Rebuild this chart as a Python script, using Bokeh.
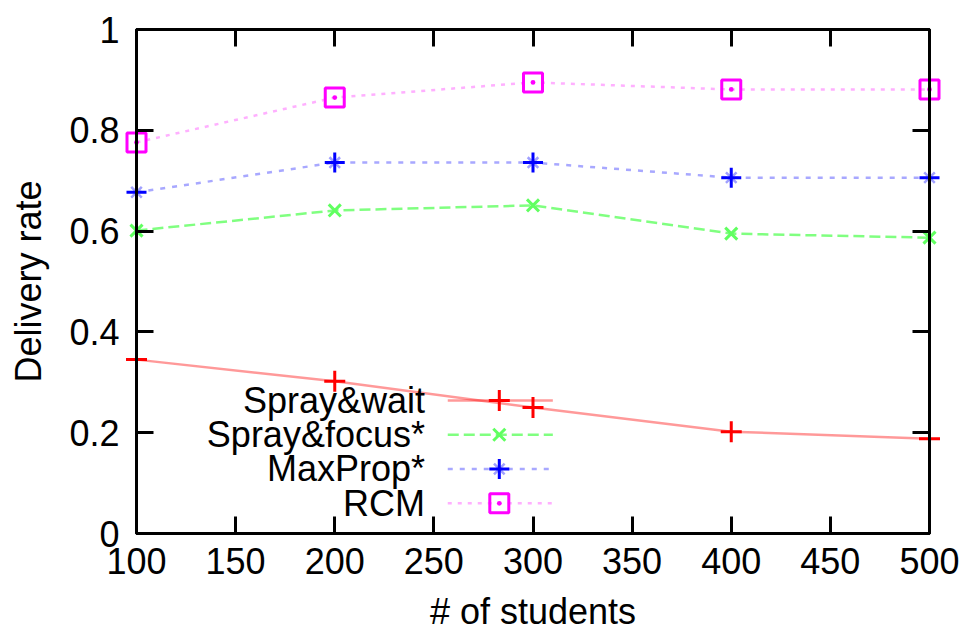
from bokeh.plotting import figure
from bokeh.models import Range1d, FixedTicker, LinearAxis
from bokeh.core.properties import value
from bokeh.embed import file_html
from bokeh.resources import INLINE

# ---- data ----
students = [100, 200, 300, 400, 500]
spray_wait = [0.345, 0.302, 0.250, 0.202, 0.188]
spray_focus = [0.601, 0.641, 0.651, 0.595, 0.587]
maxprop = [0.677, 0.736, 0.736, 0.706, 0.706]
rcm = [0.776, 0.865, 0.895, 0.881, 0.881]

series_names = ["Spray&wait", "Spray&focus*", "MaxProp*", "RCM"]
x_ticks = [100, 150, 200, 250, 300, 350, 400, 450, 500]
y_ticks = [0, 0.2, 0.4, 0.6, 0.8, 1.0]
y_tick_labels = ["0", "0.2", "0.4", "0.6", "0.8", "1"]
x_title = "# of students"
y_title = "Delivery rate"

FONT = "Liberation Sans"
FS = "36px"

p = figure(width=965, height=634, output_backend="svg", toolbar_location=None,
           x_range=Range1d(100, 500), y_range=Range1d(0, 1),
           min_border_left=136, min_border_right=36, min_border_top=29, min_border_bottom=101)
p.xgrid.visible = False
p.ygrid.visible = False
p.outline_line_color = "black"
p.outline_line_width = 3
p.background_fill_color = "white"
p.border_fill_color = "white"

def style_axis(ax, ticks):
    ax.ticker = FixedTicker(ticks=ticks)
    ax.major_tick_in = 17
    ax.major_tick_out = 0
    ax.minor_tick_line_color = None
    ax.major_tick_line_width = 3
    ax.axis_line_width = 3
    ax.major_label_text_font = FONT
    ax.major_label_text_font_size = FS
    ax.major_label_text_color = "black"

style_axis(p.xaxis[0], x_ticks)
style_axis(p.yaxis[0], y_ticks)
p.yaxis[0].major_label_overrides = {t: l for t, l in zip(y_ticks, y_tick_labels)}
p.xaxis[0].major_label_standoff = 14
p.yaxis[0].major_label_standoff = 17

p.xaxis[0].axis_label = x_title
p.yaxis[0].axis_label = y_title
for ax in (p.xaxis[0], p.yaxis[0]):
    ax.axis_label_text_font = FONT
    ax.axis_label_text_font_size = FS
    ax.axis_label_text_font_style = "normal"
    ax.axis_label_text_color = "black"
p.xaxis[0].axis_label_standoff = 14
p.yaxis[0].axis_label_standoff = 17

# mirrored ticks on top and right, without labels
top = LinearAxis()
right = LinearAxis()
style_axis(top, x_ticks)
style_axis(right, y_ticks)
top.major_label_overrides = {t: "" for t in x_ticks}
right.major_label_overrides = {t: "" for t in y_ticks}
top.major_label_standoff = 0
right.major_label_standoff = 0
p.add_layout(top, "above")
p.add_layout(right, "right")

MK_LEVEL = "guide"

# ---- series ----
# Spray&wait: red solid, '+'
p.line(students, spray_wait, line_color="#ff0000", line_alpha=0.4, line_width=2.5)
p.scatter(students, spray_wait, marker="cross", size=21, line_color="#ff0000", line_width=3,
          level=MK_LEVEL)

# Spray&focus*: green dashed, 'x'
p.line(students, spray_focus, line_color="#80ff80", line_width=2.5, line_dash="11 5")
p.scatter(students, spray_focus, marker="x", size=17, line_color="#60ff60", line_width=3,
          level=MK_LEVEL)

# MaxProp*: blue short dashes, '*'
p.line(students, maxprop, line_color="#a8a8ff", line_width=2.5, line_dash="5 7")
p.scatter(students, maxprop, marker="x", size=15, line_color="#a0a0ff", line_width=2.5,
          level=MK_LEVEL)
p.scatter(students, maxprop, marker="cross", size=20, line_color="#0000ff", line_width=3,
          level=MK_LEVEL)

# RCM: magenta dotted, boxed dot
p.line(students, rcm, line_color="#ffb0ff", line_width=2.5, line_dash="4 6")
p.scatter(students, rcm, marker="square_dot", size=19, line_color="#ff00ff",
          fill_color=None, line_width=3, level=MK_LEVEL)

# ---- legend (gnuplot style: label, then sample) ----
LEG_TEXT_X = 245.5
LEG_X0, LEG_X1, LEG_XM = 257, 310, 283
LEG_ROWS = [0.264, 0.196, 0.128, 0.060]

p.text(x=[LEG_TEXT_X] * 4, y=LEG_ROWS, text=series_names, text_align="right",
       text_baseline="middle", text_font=value(FONT), text_font_size=FS, text_color="black")

r0, r1, r2, r3 = LEG_ROWS
p.line([LEG_X0, LEG_X1], [r0, r0], line_color="#ff0000", line_alpha=0.4, line_width=2.5)
p.scatter([LEG_XM], [r0], marker="cross", size=21, line_color="#ff0000", line_width=3)
p.line([LEG_X0, LEG_X1], [r1, r1], line_color="#80ff80", line_width=2.5, line_dash="11 5")
p.scatter([LEG_XM], [r1], marker="x", size=17, line_color="#60ff60", line_width=3)
p.line([LEG_X0, LEG_X1], [r2, r2], line_color="#a8a8ff", line_width=2.5, line_dash="5 7")
p.scatter([LEG_XM], [r2], marker="x", size=15, line_color="#a0a0ff", line_width=2.5)
p.scatter([LEG_XM], [r2], marker="cross", size=20, line_color="#0000ff", line_width=3)
p.line([LEG_X0, LEG_X1], [r3, r3], line_color="#ffb0ff", line_width=2.5, line_dash="4 6")
p.scatter([LEG_XM], [r3], marker="square_dot", size=19, line_color="#ff00ff",
          fill_color=None, line_width=3)

open("out.html", "w").write(file_html(p, INLINE))
